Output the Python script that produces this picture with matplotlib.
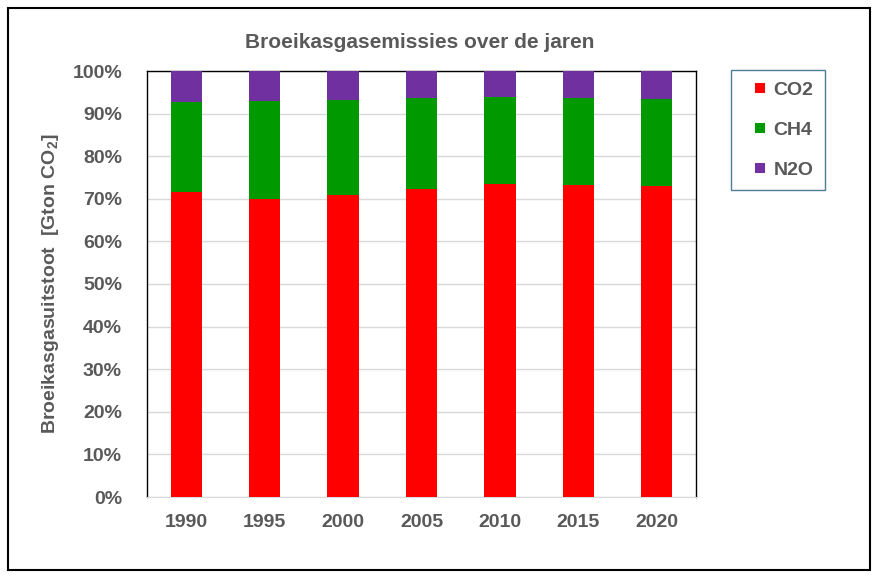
import matplotlib
matplotlib.use("Agg")
import matplotlib.pyplot as plt
import numpy as np
from matplotlib.lines import Line2D
from matplotlib.patches import Rectangle
from matplotlib.ticker import PercentFormatter

# data (share of total, %)
years = ["1990", "1995", "2000", "2005", "2010", "2015", "2020"]
co2 = [71.7, 70.0, 70.9, 72.3, 73.5, 73.2, 73.1]
ch4_top = [92.8, 93.0, 93.3, 93.7, 93.9, 93.7, 93.4]
ch4 = [t - c for t, c in zip(ch4_top, co2)]
n2o = [100 - t for t in ch4_top]

series = [("CO2", co2, "#ff0000"), ("CH4", ch4, "#009900"), ("N2O", n2o, "#7030a0")]

FONT = ["Liberation Sans Narrow", "Liberation Sans", "DejaVu Sans"]
plt.rcParams["font.family"] = FONT
plt.rcParams["mathtext.fontset"] = "custom"
plt.rcParams["mathtext.bf"] = "Liberation Sans:bold"
plt.rcParams["mathtext.rm"] = "Liberation Sans:bold"
plt.rcParams["mathtext.default"] = "bf"

TXT = "#595959"

fig = plt.figure(figsize=(8.8, 5.8), dpi=100)
ax = fig.add_axes([147 / 880, 83 / 580, 549 / 880, 426 / 580])

x = np.arange(len(years))
bottom = np.zeros(len(years))
for name, vals, col in series:
    ax.bar(x, vals, bottom=bottom, width=0.4, color=col, label=name, zorder=3)
    bottom += np.array(vals)

ax.set_xlim(-0.5, len(years) - 0.5)
ax.set_ylim(0, 100)
ax.set_yticks(np.arange(0, 101, 10))
ax.yaxis.set_major_formatter(PercentFormatter(decimals=0))
ax.set_xticks(x)
ax.set_xticklabels(years)
ax.grid(axis="y", color="#d9d9d9", linewidth=1, zorder=0)
ax.tick_params(length=0, labelsize=14, labelcolor=TXT)
ax.tick_params(axis="x", pad=12)
ax.tick_params(axis="y", pad=18)
for lab in ax.get_xticklabels() + ax.get_yticklabels():
    lab.set_fontweight("bold")

for s in ("left", "top", "right"):
    ax.spines[s].set_color("black")
    ax.spines[s].set_linewidth(1)
ax.spines["bottom"].set_color("#d9d9d9")

ax.set_ylabel(r"Broeikasgasuitstoot  [Gton CO$_2$]", fontsize=14, fontweight="bold",
              color=TXT, labelpad=8)

fig.text(420 / 880, 1 - 43 / 580, "Broeikasgasemissies over de jaren", ha="center",
         va="center", fontsize=15, fontweight="bold", color=TXT)

# small square markers like the Excel legend
handles = [Line2D([], [], linestyle="none", marker="s", markersize=7.2, color=col,
                  markeredgewidth=0) for _, _, col in series]
labels = [name for name, _, _ in series]
leg = fig.legend(handles, labels, loc="upper left", bbox_to_anchor=(731 / 880, 1 - 70 / 580),
                 frameon=True, fancybox=False, handlelength=1.8, handletextpad=-0.2,
                 labelspacing=1.15, borderpad=0.58, borderaxespad=0,
                 prop={"family": FONT, "weight": "bold", "size": 14})
leg.get_frame().set_edgecolor("#1f5c7a")
leg.get_frame().set_linewidth(1)
for t in leg.get_texts():
    t.set_color(TXT)

fig.patches.append(Rectangle((8 / 880, 10 / 580), 862 / 880, 562 / 580, transform=fig.transFigure,
                             fill=False, edgecolor="black", linewidth=1.5))

fig.savefig("out.png", dpi=100)
